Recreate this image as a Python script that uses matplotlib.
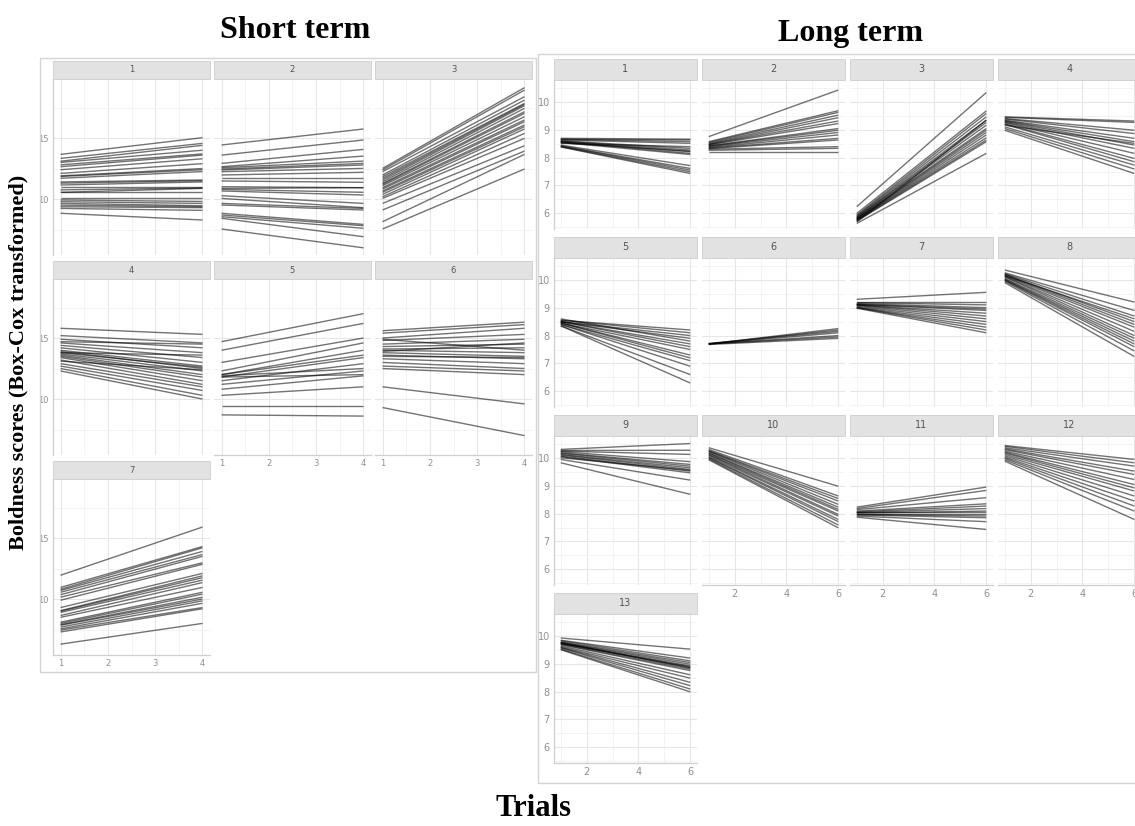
import matplotlib
matplotlib.use("Agg")
import matplotlib.pyplot as plt
from matplotlib.patches import Rectangle

# boldness score of each fish at its first and last trial, one list per group
# short term: trials 1..4
st_1 = [(13.66, 15.03), (13.33, 14.56), (13.1, 14.4), (13.0, 14.0), (12.8, 13.7),
        (12.65, 13.6), (12.4, 13.3), (12.1, 12.9), (11.9, 12.5), (11.85, 12.4),
        (11.7, 12.25), (11.4, 11.56), (11.3, 11.5), (11.15, 11.4), (11.0, 11.0),
        (10.75, 10.9), (10.6, 10.6), (10.55, 10.87), (10.1, 10.1), (9.92, 9.8),
        (9.78, 9.64), (9.64, 9.45), (9.5, 9.37), (9.37, 9.29), (9.23, 9.07),
        (8.83, 8.28)]
st_2 = [(14.43, 15.74), (13.6, 14.84), (12.92, 14.07), (12.65, 13.52), (12.57, 13.11),
        (12.46, 12.92), (12.38, 12.79), (12.24, 12.51), (11.97, 12.19), (11.75, 11.75),
        (11.48, 11.37), (11.01, 10.93), (10.87, 10.93), (10.79, 10.55), (10.66, 10.33),
        (10.27, 9.64), (10.05, 9.29), (9.64, 9.23), (9.51, 9.1), (8.83, 7.92),
        (8.69, 7.81), (8.55, 7.6), (8.42, 6.91), (7.54, 6.0)]
st_3 = [(12.51, 19.13), (12.38, 18.93), (12.24, 18.39), (11.97, 18.11), (11.83, 17.84),
        (11.69, 17.76), (11.56, 17.65), (11.42, 17.43), (11.28, 17.16), (11.2, 17.02),
        (11.09, 16.75), (10.93, 16.48), (10.82, 16.34), (10.66, 16.07), (10.55, 15.93),
        (10.38, 15.74), (10.19, 15.38), (10.05, 14.97), (9.64, 14.37), (9.1, 13.93),
        (8.14, 13.66), (7.54, 12.46)]
st_4 = [(15.8, 15.3), (15.2, 14.6), (14.9, 14.2), (14.6, 13.8), (14.4, 13.4),
        (14.2, 13.0), (14.0, 12.7), (13.9, 12.5), (13.8, 12.6), (13.7, 12.3),
        (13.6, 12.0), (13.5, 11.8), (13.4, 11.5), (13.2, 11.2), (13.1, 12.4),
        (12.9, 11.0), (12.7, 10.7), (12.5, 10.3), (12.3, 10.0), (13.8, 13.6),
        (14.7, 14.5)]
st_5 = [(14.7, 17.0), (14.0, 16.2), (13.0, 15.0), (12.3, 14.6), (12.0, 14.0),
        (11.8, 13.4), (11.9, 12.5), (11.5, 12.9), (12.0, 13.6), (11.8, 12.0),
        (11.2, 12.3), (10.8, 11.9), (10.3, 11.0), (9.4, 9.4), (8.7, 8.6)]
st_6 = [(15.6, 16.3), (15.4, 16.1), (15.0, 15.8), (14.8, 15.3), (14.5, 14.9),
        (14.3, 14.5), (14.1, 14.2), (14.0, 13.8), (13.8, 13.5), (13.6, 13.3),
        (13.5, 13.4), (13.3, 12.9), (13.0, 12.5), (12.7, 12.3), (12.5, 12.0),
        (14.9, 14.0), (13.9, 14.6), (11.0, 9.6), (9.3, 7.0)]
st_7 = [(11.95, 15.9), (10.95, 14.3), (10.8, 14.2), (10.7, 13.9), (10.55, 13.65),
        (10.35, 13.5), (10.15, 12.97), (9.9, 12.85), (9.3, 12.1), (9.05, 11.9),
        (9.0, 11.75), (8.9, 11.55), (8.65, 11.35), (8.5, 10.95), (8.1, 10.55),
        (8.0, 10.4), (7.9, 10.15), (7.85, 10.0), (7.7, 9.85), (7.55, 9.65),
        (7.45, 9.3), (7.3, 9.2), (6.3, 8.0)]

# long term: trials 1..6
lt_1 = [(8.69, 8.66), (8.66, 8.63), (8.65, 8.57), (8.63, 8.51), (8.6, 8.33),
        (8.59, 8.27), (8.57, 8.21), (8.57, 8.15), (8.54, 8.11), (8.53, 8.23),
        (8.51, 8.39), (8.45, 7.71), (8.42, 7.61), (8.41, 7.55), (8.39, 7.49),
        (8.38, 7.43)]
lt_2 = [(8.75, 10.42), (8.57, 9.68), (8.54, 9.62), (8.51, 9.52), (8.48, 9.43),
        (8.47, 9.31), (8.45, 9.22), (8.42, 9.04), (8.41, 8.98), (8.39, 8.9),
        (8.36, 8.81), (8.34, 8.69), (8.32, 8.63), (8.3, 8.39), (8.26, 8.33),
        (8.21, 8.21)]
lt_3 = [(6.24, 10.33), (6.0, 9.67), (5.94, 9.58), (5.91, 9.46), (5.88, 9.34),
        (5.85, 9.26), (5.84, 9.16), (5.82, 9.04), (5.8, 8.98), (5.79, 8.9),
        (5.77, 8.81), (5.76, 8.71), (5.74, 8.63), (5.72, 8.57), (5.69, 9.34),
        (5.64, 8.15)]
lt_4 = [(9.46, 9.31), (9.44, 9.26), (9.4, 8.98), (9.38, 8.86), (9.34, 8.69),
        (9.32, 8.57), (9.3, 8.45), (9.27, 8.33), (9.25, 8.15), (9.21, 7.97),
        (9.19, 7.85), (9.16, 8.51), (9.1, 7.73), (9.04, 7.59), (8.98, 7.43)]
lt_5 = [(8.55, 8.2), (8.55, 8.1), (8.5, 7.9), (8.5, 7.7), (8.45, 7.5),
        (8.45, 7.3), (8.4, 7.1), (8.4, 6.9), (8.35, 6.6), (8.35, 6.3),
        (8.5, 7.6), (8.6, 7.8), (8.5, 8.0), (8.45, 7.2)]
lt_6 = [(7.7, 8.25), (7.7, 8.2), (7.7, 8.1), (7.7, 8.0), (7.7, 7.95),
        (7.72, 8.15), (7.68, 7.9)]
lt_7 = [(9.3, 9.55), (9.2, 9.2), (9.18, 9.1), (9.15, 9.0), (9.12, 8.9),
        (9.1, 8.8), (9.1, 8.7), (9.08, 8.6), (9.05, 8.5), (9.02, 8.4),
        (9.0, 8.3), (9.0, 8.2), (8.98, 8.1), (9.12, 8.95)]
lt_8 = [(10.35, 9.2), (10.25, 8.9), (10.22, 8.7), (10.2, 8.5), (10.18, 8.4),
        (10.15, 8.3), (10.12, 8.15), (10.1, 8.0), (10.05, 7.9), (10.02, 7.8),
        (10.0, 7.7), (9.98, 7.6), (9.95, 7.45), (9.9, 7.25), (10.15, 8.6)]
lt_9 = [(10.3, 10.51), (10.26, 10.27), (10.24, 10.12), (10.22, 9.86), (10.18, 9.76),
        (10.16, 9.7), (10.12, 9.64), (10.1, 9.58), (10.06, 9.52), (10.04, 9.46),
        (10.0, 9.55), (9.94, 9.2), (9.82, 8.69)]
lt_10 = [(10.36, 8.98), (10.3, 8.63), (10.26, 8.54), (10.24, 8.45), (10.22, 8.33),
         (10.18, 8.23), (10.16, 8.15), (10.12, 8.09), (10.1, 7.97), (10.06, 7.91),
         (10.02, 7.79), (10.0, 7.71), (9.96, 7.59), (9.93, 7.49)]
lt_11 = [(8.23, 8.95), (8.18, 8.83), (8.14, 8.57), (8.09, 8.35), (8.06, 8.27),
         (8.04, 8.18), (8.02, 8.09), (7.99, 7.99), (7.97, 7.91), (7.95, 7.85),
         (7.91, 7.71), (7.87, 7.43), (8.03, 8.04)]
lt_12 = [(10.44, 9.94), (10.41, 9.82), (10.36, 9.7), (10.32, 9.52), (10.29, 9.4),
         (10.24, 9.22), (10.2, 9.04), (10.17, 8.92), (10.12, 8.81), (10.07, 8.63),
         (10.02, 8.45), (9.98, 8.27), (9.93, 8.09), (9.88, 7.79)]
lt_13 = [(9.92, 9.52), (9.84, 9.2), (9.82, 9.1), (9.78, 9.04), (9.76, 8.98),
         (9.74, 8.92), (9.73, 8.86), (9.7, 8.8), (9.68, 8.75), (9.64, 8.6),
         (9.6, 8.48), (9.58, 8.33), (9.56, 8.21), (9.52, 8.09), (9.5, 7.99),
         (9.76, 8.84), (9.72, 8.89)]

short_groups = [st_1, st_2, st_3, st_4, st_5, st_6, st_7]
long_groups = [lt_1, lt_2, lt_3, lt_4, lt_5, lt_6, lt_7, lt_8, lt_9, lt_10,
               lt_11, lt_12, lt_13]

W, H = 1135, 826
fig = plt.figure(figsize=(W / 100, H / 100), dpi=100)


def px(x0, y0, x1, y1):
    # pixel box (top-left origin) -> figure fraction rect
    return [x0 / W, 1 - y1 / H, (x1 - x0) / W, (y1 - y0) / H]


def frame(x0, y0, x1, y1):
    fig.patches.append(Rectangle((x0 / W, 1 - y1 / H), (x1 - x0) / W, (y1 - y0) / H,
                                 transform=fig.transFigure, fill=False,
                                 ec="#d4d4d4", lw=1.0))


def strip(x0, y0, x1, y1, label, fs):
    fig.patches.append(Rectangle((x0 / W, 1 - y1 / H), (x1 - x0) / W, (y1 - y0) / H,
                                 transform=fig.transFigure, fc="#e2e2e2",
                                 ec="#cdcdcd", lw=0.6))
    fig.text((x0 + x1) / 2 / W, 1 - (y0 + y1) / 2 / H, label, ha="center",
             va="center", fontsize=fs, color="#555555")


def facet(rect, groups, n, ylim, xlim, majx, minx, majy, miny, showx, showy, fs):
    ax = fig.add_axes(rect)
    ax.set_xlim(*xlim)
    ax.set_ylim(*ylim)
    ax.set_xticks(majx)
    ax.set_xticks(minx, minor=True)
    ax.set_yticks(majy)
    ax.set_yticks(miny, minor=True)
    ax.grid(True, which="major", color="#e6e6e6", lw=0.8)
    ax.grid(True, which="minor", color="#f1f1f1", lw=0.6)
    ax.set_axisbelow(True)
    for s in ax.spines.values():
        s.set_visible(False)
    ax.spines["left"].set_visible(showy)
    ax.spines["bottom"].set_visible(showx)
    for side in ("left", "bottom"):
        ax.spines[side].set_color("#cfcfcf")
        ax.spines[side].set_linewidth(0.9)
    ax.tick_params(which="both", length=0, pad=3, labelsize=fs, colors="#8f8f8f",
                   labelbottom=showx, labelleft=showy)
    for first, last in groups:
        ax.plot([1, n], [first, last], color="black", alpha=0.55, lw=1.0,
                solid_capstyle="butt")
    return ax


# ---- short term: 3 columns, trials 1-4
frame(40, 58, 536, 672)
for i, grp in enumerate(short_groups):
    r, c = divmod(i, 3)
    x0 = 53 + 161 * c
    x1 = x0 + 157
    top = 61 + 200 * r
    strip(x0, top, x1, top + 18, str(i + 1), 6)
    bottom_row = (i + 3 >= len(short_groups))
    facet(px(x0, top + 18, x1, top + 194), grp, 4, (5.41, 19.84), (0.84, 4.16),
          [1, 2, 3, 4], [1.5, 2.5, 3.5], [10, 15], [7.5, 12.5, 17.5],
          bottom_row, c == 0, 6)

# ---- long term: 4 columns, trials 1-6
frame(538, 54, 1145, 783)
for i, grp in enumerate(long_groups):
    r, c = divmod(i, 4)
    x0 = 554 + 148 * c
    x1 = x0 + 143
    top = 59 + 178 * r
    strip(x0, top, x1, top + 21, str(i + 1), 7)
    bottom_row = (i + 4 >= len(long_groups))
    facet(px(x0, top + 21, x1, top + 170), grp, 6, (5.44, 10.78), (0.74, 6.26),
          [2, 4, 6], [1, 3, 5], [6, 7, 8, 9, 10], [5.5, 6.5, 7.5, 8.5, 9.5, 10.5],
          bottom_row, c == 0, 7)

serif = ["Liberation Serif", "DejaVu Serif"]
fig.text(295 / W, 1 - 30 / H, "Short term", ha="center", va="center",
         fontsize=23, fontweight="bold", family=serif)
fig.text(850 / W, 1 - 33 / H, "Long term", ha="center", va="center",
         fontsize=23, fontweight="bold", family=serif)
fig.text(533 / W, 1 - 808 / H, "Trials", ha="center", va="center",
         fontsize=22, fontweight="bold", family=serif)
fig.text(18 / W, 1 - 362 / H, "Boldness scores (Box-Cox transformed)", ha="center",
         va="center", rotation=90, fontsize=16, fontweight="bold", family=serif)

fig.savefig("out.png", dpi=100)
